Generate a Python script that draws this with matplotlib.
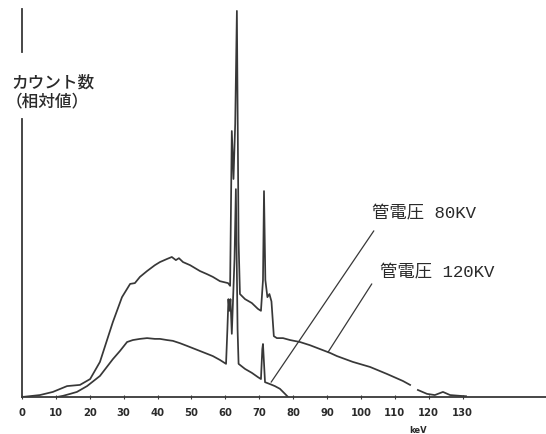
import numpy as np
import matplotlib
matplotlib.use('Agg')
from matplotlib import pyplot as plt

# Spectrum at 120 kV tube voltage (keV, relative counts); nan marks the break in the trace
kev_120 = [0, 5.3, 9.1, 13.3, 17.1, 20.1, 23.0, 26.8, 29.5, 31.9, 33.3, 34.8, 36.9, 39.2,
           40.7, 42.8, 44.2, 45.4, 46.3, 47.5, 49.6, 52.5, 54.6, 56.3, 58.4, 60.8, 61.4,
           61.9, 62.4, 62.9, 63.4, 63.9, 64.3, 65.8, 67.8, 69.6, 70.5, 71.1, 71.4, 71.8,
           72.4, 73.0, 73.6, 74.3, 75.2, 77.0, 79.1, 82.0, 84.9, 87.9, 90.9, 92.9, 97.6,
           102.7, 107.7, 112.4, 114.5, np.nan, 116.8, 119.5, 121.8, 124.2, 126.3, 129.2, 131.0]
cnt_120 = [0, 0.5, 1.3, 2.8, 3.1, 4.6, 9.0, 19.2, 25.6, 29.0, 29.2, 30.8, 32.3, 33.8,
           34.6, 35.4, 35.9, 35.1, 35.6, 34.6, 33.8, 32.3, 31.5, 30.8, 29.7, 29.2, 28.5,
           68.2, 55.9, 70.0, 99.0, 40.0, 26.4, 25.1, 24.1, 22.6, 22.1, 30.0, 52.8, 30.0,
           25.6, 26.4, 24.5, 15.6, 15.1, 15.1, 14.6, 14.1, 13.3, 12.3, 11.3, 10.5, 9.0,
           7.7, 5.9, 4.1, 3.1, np.nan, 1.8, 0.8, 0.5, 1.3, 0.5, 0.3, 0.2]

# Spectrum at 80 kV tube voltage
kev_80 = [10.3, 12.1, 14.2, 16.2, 19.2, 23.0, 26.8, 28.9, 31.0, 32.7, 34.8, 36.9, 39.2,
          40.7, 42.8, 44.5, 46.6, 48.7, 52.5, 56.3, 58.4, 60.2, 60.6, 60.9, 61.2, 61.5,
          61.9, 62.7, 63.1, 63.6, 63.9, 65.8, 67.8, 69.6, 70.5, 70.9, 71.1, 71.7, 73.2,
          74.6, 76.1, 77.6, 78.5]
cnt_80 = [0, 0.3, 0.8, 1.3, 2.8, 5.4, 9.7, 11.8, 14.1, 14.6, 14.9, 15.1, 14.9,
          14.9, 14.6, 14.4, 13.8, 13.1, 11.8, 10.5, 9.5, 8.5, 17.4, 25.1, 22.1, 25.1,
          16.2, 35.4, 53.3, 17.4, 8.5, 7.2, 6.2, 5.1, 4.6, 12.3, 13.6, 3.8, 3.3,
          2.8, 2.1, 0.8, 0]

tick_kev = [0, 10, 20, 30, 40, 50, 60, 70, 80, 90, 100, 110, 120, 130]
tick_text = ['0', '10', '20', '30', '40', '50', '60', '70', '80', '90', '100', '110', '120', '130']

ink = '#383838'
jp = ['Liberation Mono', 'Noto Sans CJK JP']

fig = plt.figure(figsize=(5.46, 4.35), dpi=100)
ax = fig.add_axes([22 / 546, 37 / 435, 524 / 546, 390 / 435])

ax.plot(kev_120, cnt_120, color=ink, lw=1.25)
ax.plot(kev_80, cnt_80, color=ink, lw=1.25)

ax.set_xlim(0, 154.6)
ax.set_ylim(0, 100)

for side in ['top', 'right', 'left']:
    ax.spines[side].set_visible(False)
ax.spines['bottom'].set_color(ink)
ax.spines['bottom'].set_linewidth(1.3)

# y axis drawn in two pieces, leaving room for its label
ax.axvline(0, ymin=0, ymax=0.713, color=ink, lw=1.3, clip_on=False)
ax.axvline(0, ymin=0.885, ymax=0.995, color=ink, lw=1.3, clip_on=False)

ax.set_xticks(tick_kev)
ax.set_xticklabels(tick_text)
ax.set_yticks([])
ax.tick_params(axis='x', direction='inout', length=3, width=0.8, color=ink,
               pad=6, labelsize=7.2, labelcolor='#2a2a2a')
for lbl in ax.get_xticklabels():
    lbl.set_fontweight('bold')

fig.text(418 / 546, 1 - 431 / 435, 'keV', fontsize=6, fontweight='bold',
         color='#2a2a2a', ha='center', va='center')

fig.text(11 / 546, 1 - 83 / 435, 'カウント数', fontsize=12, fontweight='medium',
         family=['Noto Sans CJK JP'], color='#2a2a2a', ha='left', va='center')
fig.text(6 / 546, 1 - 101 / 435, '（相対値）', fontsize=12, fontweight='medium',
         family=['Noto Sans CJK JP'], color='#2a2a2a', ha='left', va='center')

# leader lines to the two spectra
ax.annotate('', xy=(73.5, 3.8), xytext=(103.8, 42.6),
            arrowprops=dict(arrowstyle='-', color=ink, lw=0.9, shrinkA=0, shrinkB=0))
ax.annotate('', xy=(90.3, 11.5), xytext=(103.2, 29.0),
            arrowprops=dict(arrowstyle='-', color=ink, lw=0.9, shrinkA=0, shrinkB=0))
ax.text(103.2, 47.4, '管電圧 80KV', fontsize=12.5, family=jp, color='#2a2a2a',
        ha='left', va='center')
ax.text(105.6, 32.1, '管電圧 120KV', fontsize=12.5, family=jp, color='#2a2a2a',
        ha='left', va='center')

fig.savefig('out.png', dpi=100)
